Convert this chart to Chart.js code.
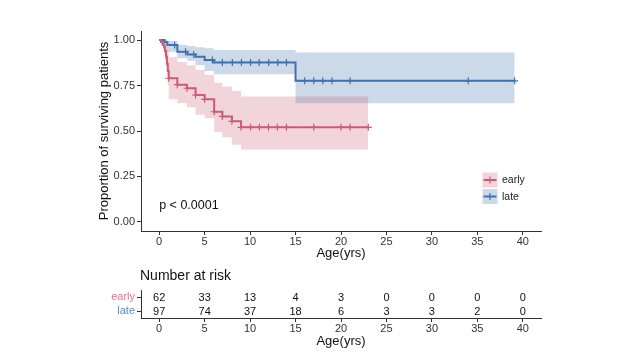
<!DOCTYPE html>
<html><head><meta charset="utf-8">
<script src="https://cdn.jsdelivr.net/npm/chart.js@4.4.1/dist/chart.umd.min.js"></script>
<style>
html,body{margin:0;padding:0;background:#fff;width:640px;height:360px;overflow:hidden}
#c1{position:absolute;left:0;top:0}
#c2{position:absolute;left:0;top:262px}
</style></head><body>
<canvas id="c1" width="640" height="262"></canvas>
<canvas id="c2" width="640" height="98"></canvas>
<script>
// ---------- data ----------
const groups = ['early', 'late'];

const earlyTimes = [0, 0.2, 0.4, 0.55, 0.65, 0.75, 0.85, 0.95, 1.05, 2.0, 3.05, 4.0, 5.0, 6.05, 6.95, 8.0, 9.0, 23.0];
const earlySurv  = [1.0, 0.99, 0.975, 0.96, 0.94, 0.91, 0.87, 0.83, 0.79, 0.755, 0.735, 0.698, 0.674, 0.606, 0.58, 0.553, 0.52, 0.52];
const earlyUpper = [1.0, 1.0, 1.0, 1.0, 1.0, 0.99, 0.97, 0.94, 0.905, 0.88, 0.862, 0.835, 0.81, 0.765, 0.745, 0.72, 0.69, 0.69];
const earlyLower = [1.0, 0.97, 0.945, 0.92, 0.89, 0.85, 0.80, 0.75, 0.675, 0.652, 0.63, 0.59, 0.57, 0.495, 0.465, 0.425, 0.398, 0.398];
const earlyCensor = [1.05, 2.0, 3.05, 4.0, 5.0, 6.05, 6.95, 8.0, 9.0, 10.05, 11.03, 12.02, 13.0, 14.0, 17.0, 20.0, 21.0, 23.0];

const lateTimes = [0, 0.6, 0.9, 2.0, 3.1, 4.0, 5.0, 6.0, 15.0, 39.1];
const lateSurv  = [1.0, 0.99, 0.973, 0.936, 0.921, 0.908, 0.89, 0.877, 0.776, 0.776];
const lateUpper = [1.0, 1.0, 0.995, 0.975, 0.967, 0.96, 0.955, 0.945, 0.932, 0.932];
const lateLower = [1.0, 0.97, 0.936, 0.9, 0.886, 0.862, 0.83, 0.812, 0.652, 0.652];
const lateCensor = [1.7, 2.9, 3.8, 5.85, 6.95, 8.05, 9.05, 10.05, 11.0, 12.05, 13.05, 14.0, 16.0, 17.0, 18.0, 19.0, 21.0, 34.0, 39.1];

const riskTimes = [0, 5, 10, 15, 20, 25, 30, 35, 40];
const riskEarly = [62, 33, 13, 4, 3, 0, 0, 0, 0];
const riskLate  = [97, 74, 37, 18, 6, 3, 3, 2, 0];

const xTicks = [0, 5, 10, 15, 20, 25, 30, 35, 40];
const yTicks = [0, 0.25, 0.5, 0.75, 1.0];
const pText = 'p < 0.0001';
const pPos = [0, 0.09];
const riskTitle = 'Number at risk';

// ---------- style ----------
const RED = '#CC5B74', BLUE = '#3F72AF';
const RED_BAND = 'rgba(204,91,116,0.26)', BLUE_BAND = 'rgba(63,114,175,0.27)';
const RED_TXT = '#DE768C', BLUE_TXT = '#5A8CC8';
const AXIS = '#333';
Chart.defaults.font.family = "'Liberation Sans', Arial, Helvetica, sans-serif";
Chart.defaults.color = '#333';

function pts(times, vals) { return times.map((t, i) => ({x: t, y: vals[i]})); }
function survAt(times, surv, t) {
  let v = surv[0];
  for (let i = 0; i < times.length; i++) if (times[i] <= t + 1e-9) v = surv[i];
  return v;
}
function censorPts(ct, times, surv) { return ct.map(t => ({x: t, y: survAt(times, surv, t)})); }

const band = (vals, times, color, fill) => ({
  data: pts(times, vals), stepped: true, borderColor: 'rgba(0,0,0,0)', borderWidth: 0,
  backgroundColor: color, fill: fill, pointRadius: 0, order: 10
});
const line = (vals, times, color) => ({
  data: pts(times, vals), stepped: true, borderColor: color, borderWidth: 2,
  fill: false, pointRadius: 0, order: 5
});
const cens = (d, color) => ({
  data: d, showLine: false, pointStyle: 'cross', pointRadius: 3.5, pointBorderWidth: 1.2,
  pointBorderColor: color, borderColor: color, order: 1
});

const annot = {
  id: 'annot',
  afterDraw(chart) {
    const ctx = chart.ctx, xs = chart.scales.x, ys = chart.scales.y;
    ctx.save();
    ctx.fillStyle = '#111';
    ctx.font = "12.5px 'Liberation Sans', Arial, sans-serif";
    ctx.textAlign = 'left'; ctx.textBaseline = 'middle';
    ctx.fillText(pText, xs.getPixelForValue(pPos[0]), ys.getPixelForValue(pPos[1]));
    // legend
    const items = [[groups[0], RED, RED_BAND], [groups[1], BLUE, BLUE_BAND]];
    items.forEach((it, i) => {
      const bx = 482.5, by = 172.5 + i * 16.5, s = 15;
      ctx.fillStyle = it[2]; ctx.fillRect(bx, by, s, s);
      ctx.strokeStyle = it[1]; ctx.lineWidth = 2;
      ctx.beginPath(); ctx.moveTo(bx + 1, by + s / 2); ctx.lineTo(bx + s - 1, by + s / 2); ctx.stroke();
      ctx.lineWidth = 1.2;
      ctx.beginPath(); ctx.moveTo(bx + s / 2, by + s / 2 - 3.5); ctx.lineTo(bx + s / 2, by + s / 2 + 3.5); ctx.stroke();
      ctx.fillStyle = '#222';
      ctx.font = "10.5px 'Liberation Sans', Arial, sans-serif";
      ctx.fillText(it[0], 502, by + s / 2 + 0.5);
    });
    ctx.restore();
  }
};

new Chart(document.getElementById('c1'), {
  type: 'line',
  data: { datasets: [
    band(earlyUpper, earlyTimes, RED_BAND, '+1'),
    band(earlyLower, earlyTimes, RED_BAND, false),
    band(lateUpper, lateTimes, BLUE_BAND, '+1'),
    band(lateLower, lateTimes, BLUE_BAND, false),
    line(earlySurv, earlyTimes, RED),
    line(lateSurv, lateTimes, BLUE),
    cens(censorPts(earlyCensor, earlyTimes, earlySurv), RED),
    cens(censorPts(lateCensor, lateTimes, lateSurv), BLUE)
  ]},
  options: {
    responsive: false, animation: false, devicePixelRatio: 1,
    layout: { padding: { left: 0, right: 99, top: 31, bottom: 0 } },
    plugins: { legend: { display: false }, tooltip: { enabled: false } },
    scales: {
      x: {
        type: 'linear', min: -2, max: 42,
        afterBuildTicks: s => { s.ticks = xTicks.map(v => ({value: v})); },
        afterFit: s => { s.height = 31; },
        grid: { drawOnChartArea: false, drawTicks: true, tickLength: 4, color: AXIS },
        border: { display: true, color: AXIS, width: 1 },
        ticks: { color: '#333', font: { size: 11 }, padding: 0, maxRotation: 0, autoSkip: false },
        title: { display: true, text: 'Age(yrs)', color: '#111', font: { size: 13 }, padding: { top: 0, bottom: 1.2 } }
      },
      y: {
        type: 'linear', min: -0.05, max: 1.05,
        afterBuildTicks: s => { s.ticks = yTicks.map(v => ({value: v})); },
        afterFit: s => { s.width = 141; },
        grid: { drawOnChartArea: false, drawTicks: true, tickLength: 4, color: AXIS },
        border: { display: true, color: AXIS, width: 1 },
        ticks: { color: '#333', font: { size: 11 }, padding: 2, callback: v => Number(v).toFixed(2) },
        title: { display: true, text: 'Proportion of surviving patients', color: '#111', font: { size: 13 }, padding: { top: 97, bottom: 0 } }
      }
    }
  },
  plugins: [annot]
});

const riskText = {
  id: 'riskText',
  afterDraw(chart) {
    const ctx = chart.ctx;
    ctx.save();
    ctx.fillStyle = '#111';
    ctx.font = "11px 'Liberation Sans', Arial, sans-serif";
    ctx.textAlign = 'center'; ctx.textBaseline = 'middle';
    chart.data.datasets.forEach((ds, di) => {
      chart.getDatasetMeta(di).data.forEach((el, i) => {
        ctx.fillText(String(ds.counts[i]), el.x, el.y + 0.5);
      });
    });
    ctx.font = "14px 'Liberation Sans', Arial, sans-serif";
    ctx.textAlign = 'left';
    ctx.fillText(riskTitle, chart.chartArea.left - 1, 14);
    ctx.restore();
  }
};

new Chart(document.getElementById('c2'), {
  type: 'line',
  data: { datasets: [
    { data: riskTimes.map(t => ({x: t, y: groups[0]})), counts: riskEarly, showLine: false, pointRadius: 0 },
    { data: riskTimes.map(t => ({x: t, y: groups[1]})), counts: riskLate, showLine: false, pointRadius: 0 }
  ]},
  options: {
    responsive: false, animation: false, devicePixelRatio: 1,
    layout: { padding: { left: 0, right: 99, top: 28, bottom: 0 } },
    plugins: { legend: { display: false }, tooltip: { enabled: false } },
    scales: {
      x: {
        type: 'linear', min: -2, max: 42,
        afterBuildTicks: s => { s.ticks = xTicks.map(v => ({value: v})); },
        afterFit: s => { s.height = 42; },
        grid: { drawOnChartArea: false, drawTicks: true, tickLength: 4, color: AXIS },
        border: { display: true, color: AXIS, width: 1 },
        ticks: { color: '#333', font: { size: 11 }, padding: 0, maxRotation: 0, autoSkip: false },
        title: { display: true, text: 'Age(yrs)', color: '#111', font: { size: 13 }, padding: { top: 0, bottom: 11.2 } }
      },
      y: {
        type: 'category', labels: groups, offset: true,
        afterFit: s => { s.width = 141; },
        grid: { drawOnChartArea: false, drawTicks: true, tickLength: 4, color: AXIS, offset: false },
        border: { display: true, color: AXIS, width: 1 },
        ticks: { font: { size: 11 }, padding: 2, autoSkip: false, color: c => (c.index === 0 ? RED_TXT : BLUE_TXT) }
      }
    }
  },
  plugins: [riskText]
});
</script>
</body></html>
